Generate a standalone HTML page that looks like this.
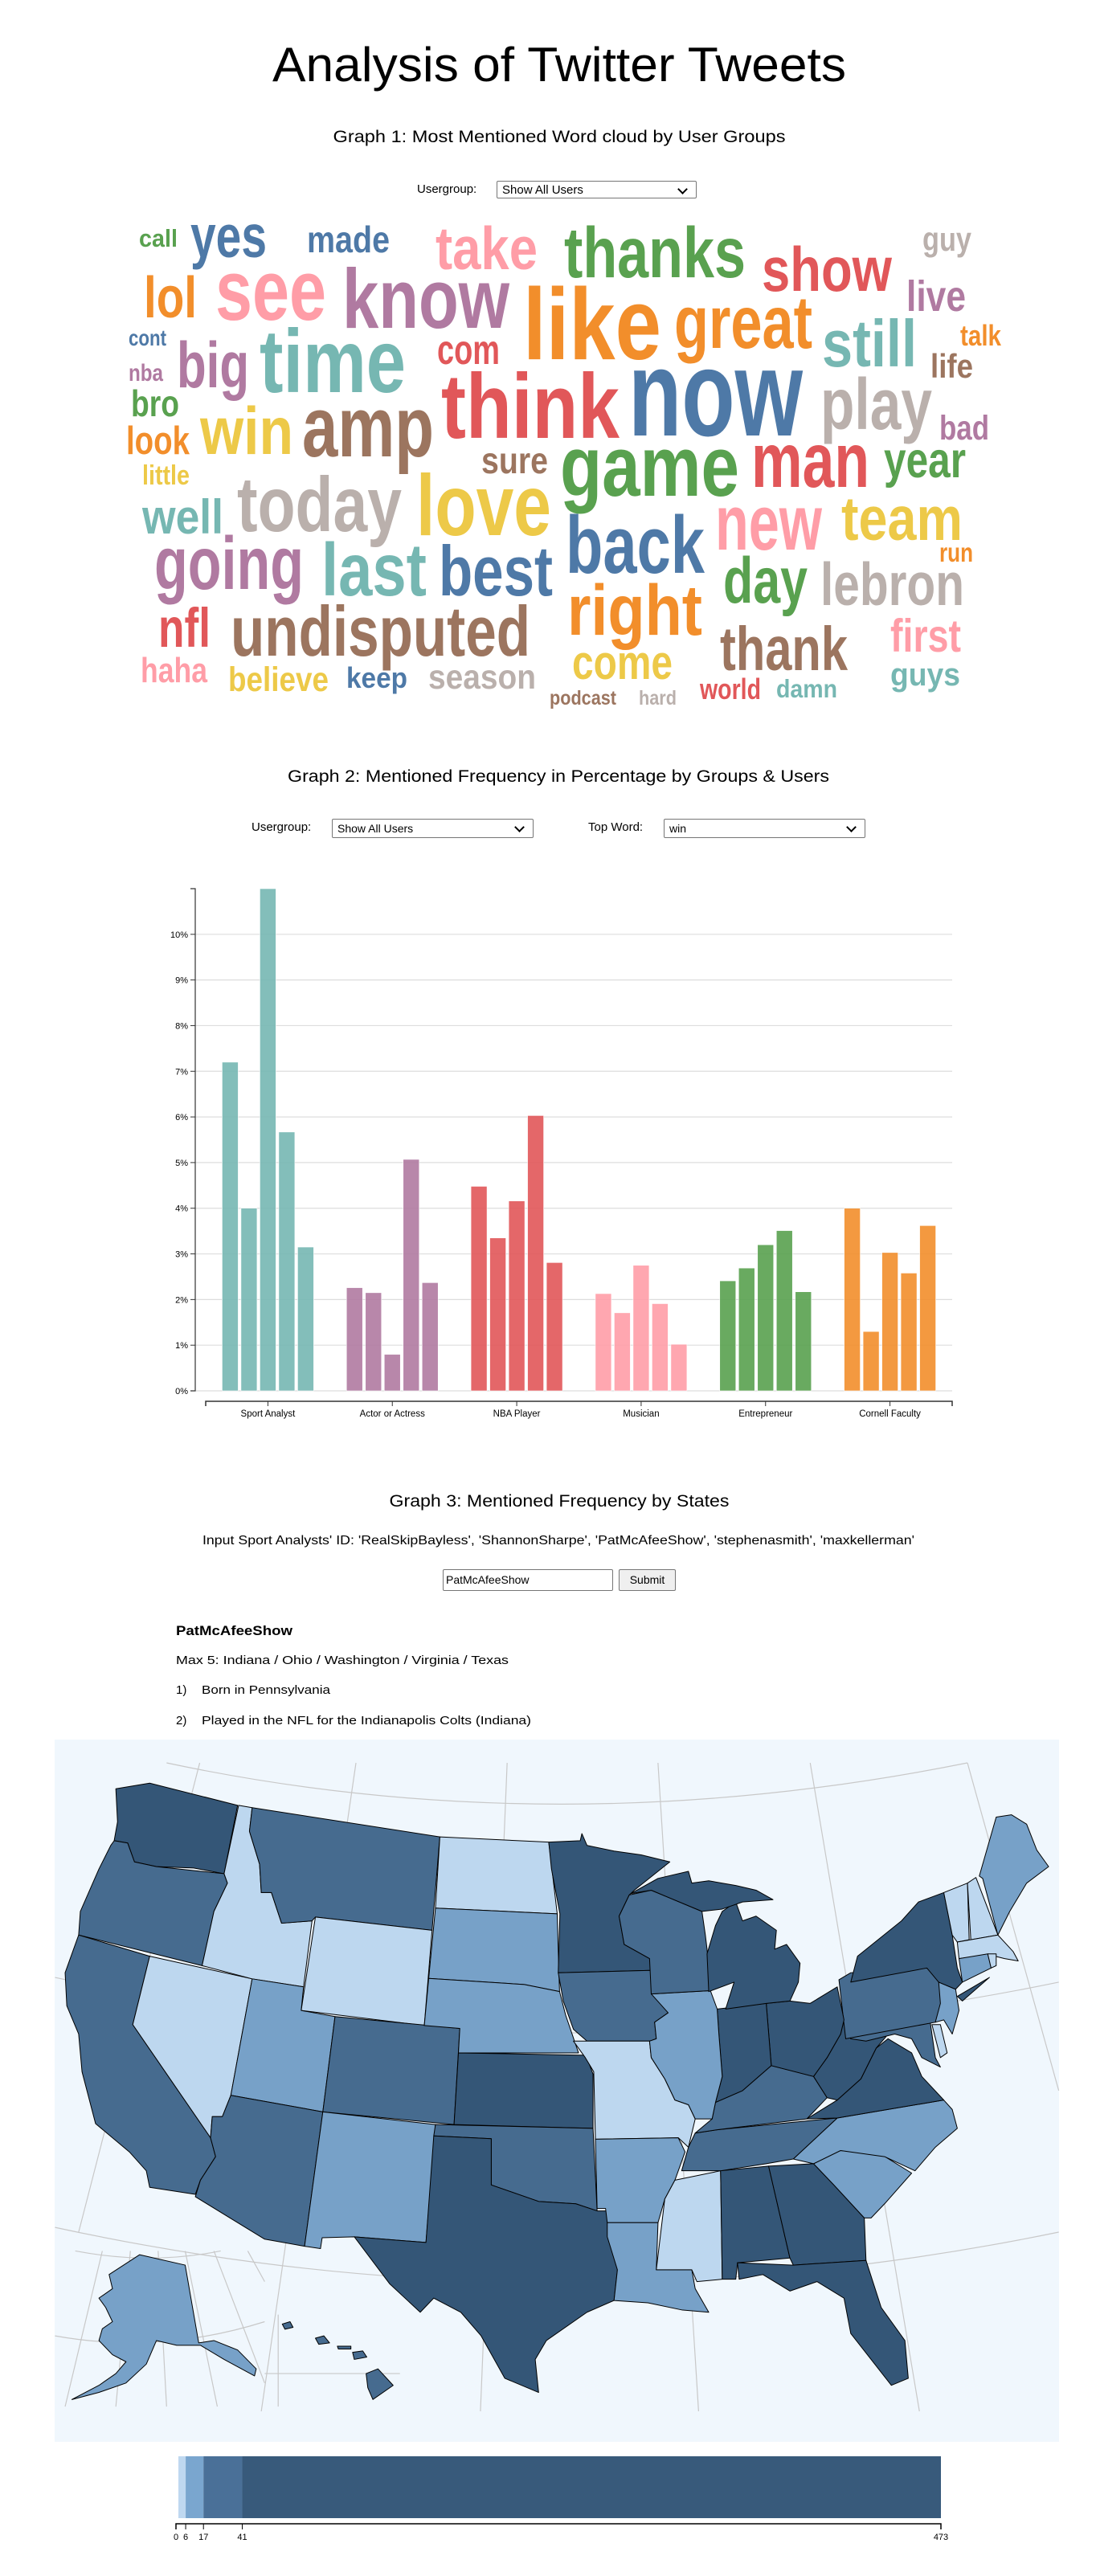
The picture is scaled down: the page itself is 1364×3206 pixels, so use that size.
<!DOCTYPE html>
<html><head><meta charset="utf-8">
<style>
html,body{margin:0;padding:0;background:#fff;}
body{width:1364px;height:3206px;position:relative;overflow:hidden;font-family:"Liberation Sans",sans-serif;}
#main{position:absolute;left:0;top:0;}
.ctl{position:absolute;font-family:"Liberation Sans",sans-serif;font-size:15px;color:#000;}
.sel{position:absolute;box-sizing:border-box;border:1px solid #767676;border-radius:2px;background:#fff;font-size:15px;padding:1px 6px;line-height:20px;}
.sel:after{content:"";position:absolute;right:12px;top:5px;width:7px;height:7px;border-right:2px solid #000;border-bottom:2px solid #000;transform:rotate(45deg);}
</style></head>
<body>
<svg id="main" width="1364" height="3206" xmlns="http://www.w3.org/2000/svg" font-family="Liberation Sans, sans-serif">
  <text x="696" y="101" font-size="60" text-anchor="middle" textLength="714" lengthAdjust="spacingAndGlyphs">Analysis of Twitter Tweets</text>
  <text x="696" y="177" font-size="21" text-anchor="middle" textLength="563" lengthAdjust="spacingAndGlyphs">Graph 1: Most Mentioned Word cloud by User Groups</text>
  <g id="cloud"></g>

  <text x="695" y="973" font-size="21" text-anchor="middle" textLength="674" lengthAdjust="spacingAndGlyphs">Graph 2: Mentioned Frequency in Percentage by Groups &amp; Users</text>
  <g id="bars"></g>

  <text x="696" y="1875" font-size="21" text-anchor="middle" textLength="423" lengthAdjust="spacingAndGlyphs">Graph 3: Mentioned Frequency by States</text>
  <text x="695" y="1922" font-size="16" text-anchor="middle" textLength="886" lengthAdjust="spacingAndGlyphs">Input Sport Analysts' ID: 'RealSkipBayless', 'ShannonSharpe', 'PatMcAfeeShow', 'stephenasmith', 'maxkellerman'</text>
  <text x="219" y="2035" font-size="17" font-weight="bold" textLength="145" lengthAdjust="spacingAndGlyphs">PatMcAfeeShow</text>
  <text x="219" y="2071" font-size="15" textLength="414" lengthAdjust="spacingAndGlyphs">Max 5: Indiana / Ohio / Washington / Virginia / Texas</text>
  <text x="219" y="2108" font-size="15">1)</text>
  <text x="251" y="2108" font-size="15" textLength="160" lengthAdjust="spacingAndGlyphs">Born in Pennsylvania</text>
  <text x="219" y="2146" font-size="15">2)</text>
  <text x="251" y="2146" font-size="15" textLength="410" lengthAdjust="spacingAndGlyphs">Played in the NFL for the Indianapolis Colts (Indiana)</text>

  <rect x="68" y="2165" width="1250" height="874" fill="#f0f7fd"/>
  <g id="grat" fill="none" stroke="#c8c8c8" stroke-width="1.2"></g>
  <g id="map"></g>
  <g id="legend"></g>
</svg>

<div class="ctl" style="left:519px;top:227px;">Usergroup:</div>
<div class="sel" style="left:618px;top:225px;width:249px;height:22px;">Show All Users</div>

<div class="ctl" style="left:313px;top:1021px;">Usergroup:</div>
<div class="sel" style="left:413px;top:1019px;width:251px;height:24px;font-size:14px;">Show All Users</div>
<div class="ctl" style="left:732px;top:1021px;">Top Word:</div>
<div class="sel" style="left:826px;top:1019px;width:251px;height:24px;font-size:14px;">win</div>

<div style="position:absolute;left:551px;top:1953px;width:212px;height:27px;box-sizing:border-box;border:1px solid #767676;border-radius:2px;font-size:14px;line-height:25px;padding-left:3px;">PatMcAfeeShow</div>
<div style="position:absolute;left:770px;top:1953px;width:71px;height:27px;box-sizing:border-box;border:1px solid #767676;border-radius:2px;background:#efefef;font-size:14px;line-height:25px;text-align:center;">Submit</div>

<script>
var NS="http://www.w3.org/2000/svg";
function mk(tag,parent,attrs){var e=document.createElementNS(NS,tag);for(var k in attrs)e.setAttribute(k,attrs[k]);parent.appendChild(e);return e;}

/* ---------- Word cloud ---------- */
var C={g:"#59a14f",b:"#4e79a7",p:"#ff9da7",r:"#e15759",gr:"#bab0ac",o:"#f28e2b",pu:"#b07aa1",t:"#76b7b2",br:"#9c755f",y:"#edc948"};
var words=[["call",173,307,221,28,"g"],["yes",237,320,332,68,"b"],["made",382,314,485,42,"b"],["take",542,335,669,68,"p"],["thanks",702,345,928,81,"g"],["show",948,362,1110,71,"r"],["guy",1148,312,1209,38,"gr"],
["lol",179,395,245,66,"o"],["see",268,398,406,97,"p"],["know",426,408,634,95,"pu"],["like",651,447,823,115,"o"],["great",839,433,1011,84,"o"],["live",1128,387,1202,49,"pu"],
["cont",160,430,207,25,"b"],["big",220,482,310,73,"pu"],["time",323,488,505,101,"t"],["com",544,453,622,47,"r"],["still",1023,456,1141,75,"t"],["talk",1195,430,1246,33,"o"],["life",1158,470,1211,38,"br"],
["nba",160,474,203,27,"pu"],["think",549,545,771,104,"r"],["now",782,542,999,139,"b"],["play",1021,534,1160,82,"gr"],["bro",163,518,223,42,"g"],["bad",1169,547,1231,39,"pu"],
["look",157,565,236,45,"o"],["win",249,565,365,76,"y"],["amp",376,568,540,97,"br"],["sure",599,589,682,42,"br"],["game",697,617,920,97,"g"],["man",935,606,1082,88,"r"],["year",1100,594,1202,57,"g"],
["little",177,603,236,31,"y"],["well",177,664,278,55,"t"],["today",295,661,500,88,"gr"],["love",518,666,686,98,"y"],["back",704,713,877,92,"b"],["new",890,684,1023,89,"p"],["team",1047,672,1198,70,"y"],["run",1169,699,1211,30,"o"],
["going",192,733,378,84,"pu"],["last",400,741,531,84,"t"],["best",546,741,688,80,"b"],["day",900,750,1005,73,"g"],["lebron",1021,753,1200,68,"gr"],
["nfl",197,805,262,62,"r"],["undisputed",287,816,660,80,"br"],["right",706,790,874,81,"o"],["thank",896,834,1055,70,"br"],["first",1108,811,1196,52,"p"],
["haha",175,849,258,40,"p"],["believe",284,860,409,39,"y"],["keep",431,856,507,33,"b"],["season",533,857,667,39,"gr"],["come",712,845,837,55,"y"],["podcast",684,877,767,23,"br"],["hard",795,877,842,23,"gr"],["world",871,870,947,33,"r"],["damn",966,868,1042,29,"t"],["guys",1108,853,1195,36,"t"]];
var cloud=document.getElementById("cloud");
words.forEach(function(w){
  var t=mk("text",cloud,{x:w[1],y:w[2],"font-size":(w[4]*1.1).toFixed(1),"font-weight":"bold",fill:C[w[5]],textLength:w[3]-w[1],lengthAdjust:"spacingAndGlyphs","font-family":"Liberation Sans Narrow, Liberation Sans, sans-serif"});
  
  
  t.textContent=w[0];
});

/* ---------- Bar chart ---------- */
var categories=["Sport Analyst","Actor or Actress","NBA Player","Musician","Entrepreneur","Cornell Faculty"];
var groupColors=["#76b7b2","#b07aa1","#e15759","#ff9da7","#59a14f","#f28e2b"];
var sportValues=[7.2,4.0,11.0,5.67,3.15];
var actorValues=[2.26,2.15,0.8,5.07,2.37];
var nbaValues=[4.48,3.35,4.16,6.03,2.81];
var musicianValues=[2.13,1.71,2.75,1.91,1.02];
var entreValues=[2.41,2.69,3.2,3.51,2.17];
var cornellValues=[4.0,1.3,3.03,2.58,3.62];
var yTicks=[0,1,2,3,4,5,6,7,8,9,10];
var series=[sportValues,actorValues,nbaValues,musicianValues,entreValues,cornellValues];
(function(){
  var g=document.getElementById("bars");
  var X0=256,X1=1185,Y0=1731,Ytop=1106,AX=243;
  var maxV=0;series.forEach(function(s){s.forEach(function(v){if(v>maxV)maxV=v;});});
  function y(v){return Y0-(v/maxV)*(Y0-Ytop);}
  var step=(X1-X0)/categories.length;
  function xc(i){return X0+step*(i+0.5);}
  yTicks.forEach(function(t){
    var l=mk("line",g,{x1:AX,x2:1185,y1:y(t),y2:y(t),stroke:"#ddd","stroke-width":1.2});
    
    
    var tk=mk("line",g,{x1:AX-6,x2:AX,y1:y(t),y2:y(t),stroke:"#333"});
    
    
    var tx=mk("text",g,{x:AX-9,y:y(t)+4,"font-size":11,"text-anchor":"end",fill:"#000"});
    
    
    tx.textContent=t+"%";
  });
  var ya=mk("path",g,{d:"M"+(AX-6)+","+Ytop+"H"+AX+"V"+Y0+"H"+(AX-6),fill:"none",stroke:"#333","stroke-width":1.2});
  
  
  var xa=mk("path",g,{d:"M"+X0+",1750V1744H"+X1+"V1750",fill:"none",stroke:"#333","stroke-width":1.5});
  
  
  var bw=20,gap=3.5;
  categories.forEach(function(c,i){
    var tk=mk("line",g,{x1:xc(i),x2:xc(i),y1:1744,y2:1750,stroke:"#333"});
    
    
    var lb=mk("text",g,{x:xc(i),y:1763,"font-size":11.5,"text-anchor":"middle"});
    
    
    lb.textContent=c;
    var vals=series[i],n=vals.length,tot=n*bw+(n-1)*gap,sx=xc(i)-tot/2;
    vals.forEach(function(v,j){
      var r=mk("rect",g,{x:sx+j*(bw+gap),y:y(v),width:bw,height:Y0-y(v),fill:groupColors[i],"fill-opacity":0.9,stroke:"#fff","stroke-width":0.6});
      
      
    });
  });
})();

/* ---------- Map ---------- */
var D="#345677",M2="#466b8f",MD="#77a1c8",L="#bdd7ef";
var west=[
["washington",D,"200,130 300,118 560,165 520,310 430,298 320,295 255,285 235,245 195,240 205,200"],
["oregon",M2,"195,240 235,245 255,285 320,295 520,310 530,330 490,390 455,505 90,440 95,390 150,300 185,250"],
["california",M2,"90,440 300,485 250,630 480,870 495,910 450,960 435,990 300,975 290,940 240,900 140,840 100,730 90,650 55,590 50,520"],
["nevada",L,"300,485 603,533 540,780 515,825 485,825 480,870 250,630"],
["idaho",L,"563,165 603,170 595,220 625,290 630,350 660,350 690,415 780,410 755,550 603,533 455,505 490,390 530,330 520,310"],
["montana",M2,"603,170 1158,232 1135,430 790,402 780,410 690,415 660,350 630,350 625,290 595,220"],
["wyoming",L,"790,402 1135,430 1112,632 748,600"],
["utah",MD,"603,533 755,550 748,600 848,613 812,815 540,780"],
["colorado",M2,"848,613 1217,638 1200,842 812,815"],
["arizona",M2,"540,780 812,815 758,1100 640,1085 435,995 450,960 495,910 480,870 485,825 515,825"],
["new-mexico",MD,"812,815 1145,842 1117,1092 905,1080 810,1082 805,1105 758,1100"],
["north-dakota",L,"1158,232 1480,243 1505,395 1145,383"],
["south-dakota",MD,"1145,383 1505,395 1510,520 1512,560 1408,545 1125,532"],
["nebraska",MD,"1125,532 1408,545 1512,560 1530,610 1568,690 1213,690 1217,638 1112,632"],
["kansas",D,"1213,690 1590,695 1611,735 1611,850 1200,842"],
["oklahoma",M2,"1145,842 1611,850 1623,1025 1560,1010 1450,1005 1310,970 1310,872 1140,866"],
["texas",D,"1140,866 1310,872 1310,970 1450,1005 1560,1010 1623,1025 1653,1025 1683,1150 1673,1215 1593,1240 1473,1300 1440,1340 1450,1410 1350,1380 1280,1290 1220,1240 1140,1210 1100,1240 1010,1180 905,1080 1117,1092"],
["alaska",MD,"180,1160 270,1118 405,1140 445,1305 490,1300 560,1320 615,1360 610,1375 520,1340 450,1310 380,1310 320,1300 290,1350 230,1390 150,1410 70,1425 150,1395 200,1370 230,1345 190,1330 150,1300 160,1275 190,1260 170,1230 150,1210 190,1190"],
["hawaii-big",M2,"940,1370 975,1360 1020,1395 960,1425 945,1400"],
["hawaii-maui",M2,"900,1325 930,1322 942,1335 905,1340"],
["hawaii-oahu",M2,"790,1295 815,1290 832,1305 800,1308"],
["hawaii-molokai",M2,"855,1312 895,1312 895,1318 858,1318"],
["hawaii-kauai",M2,"692,1265 715,1260 724,1272 700,1276"]
];
var east=[
["minnesota",D,"7,243 100,240 105,225 120,250 200,262 280,270 365,285 260,345 245,355 215,400 230,460 305,490 310,515 35,520 40,395 15,300"],
["iowa",M2,"35,520 310,515 345,565 360,605 320,625 325,660 305,665 120,665 80,640 50,580"],
["missouri",L,"80,665 305,665 310,700 350,745 380,790 420,800 440,830 420,890 390,870 145,873 140,730 115,700"],
["arkansas",MD,"145,873 390,870 410,900 380,960 350,1000 330,1050 180,1050 175,1020 150,1020"],
["louisiana",MD,"180,1050 330,1050 325,1150 430,1150 440,1190 480,1240 400,1235 300,1220 200,1215 210,1150 180,1080"],
["mississippi",L,"380,960 515,940 520,1170 445,1175 430,1150 325,1150 350,1000"],
["alabama",D,"515,940 657,930 720,1125 565,1135 560,1170 520,1170"],
["georgia",D,"657,930 790,925 850,970 940,1040 945,1130 730,1140 720,1125"],
["florida",D,"565,1135 730,1140 945,1130 990,1230 1060,1300 1070,1380 1020,1395 960,1340 900,1285 880,1210 800,1175 720,1195 640,1160 570,1170"],
["south-carolina",MD,"790,925 870,897 990,905 1080,945 1000,1010 960,1040 940,1040 850,970"],
["north-carolina",MD,"730,915 860,828 1175,790 1200,810 1215,850 1150,890 1090,940 1000,910 870,897 790,925"],
["tennessee",M2,"400,940 420,890 440,860 505,853 860,828 730,915 650,925 515,940"],
["kentucky",M2,"440,860 490,830 500,795 580,770 665,717 790,740 830,785 770,830 505,853"],
["virginia",D,"770,830 860,790 930,745 975,680 1010,660 1080,690 1110,740 1175,790 860,828"],
["west-virginia",D,"790,740 830,700 870,650 880,620 900,660 945,655 1005,655 975,680 930,745 860,790 830,785"],
["maryland",M2,"880,620 1130,600 1150,700 1165,720 1110,700 1080,660 1030,650 945,665 900,660"],
["delaware",L,"1140,630 1165,630 1185,690 1165,700"],
["pennsylvania",M2,"865,535 900,520 1125,510 1185,540 1175,600 1150,625 885,660"],
["new-jersey",MD,"1160,540 1210,555 1220,600 1200,650 1175,620 1150,625 1165,585"],
["new-york",D,"900,540 920,485 1050,410 1100,370 1175,350 1200,440 1215,510 1230,540 1210,555 1160,540 1125,510"],
["ohio",D,"650,585 720,580 780,585 860,550 880,620 870,650 830,700 790,740 665,717"],
["indiana",D,"505,597 650,585 665,717 580,770 500,795 520,740 510,650"],
["illinois",MD,"310,565 485,558 505,597 510,650 520,740 500,795 490,830 440,830 420,800 380,790 350,745 310,700 305,665 325,660 320,625 360,605"],
["wisconsin",M2,"245,355 310,345 360,360 460,390 470,440 475,470 485,558 310,565 305,490 230,460 215,400"],
["michigan-lower",D,"480,560 475,480 500,420 520,390 560,370 580,410 620,400 680,430 675,470 710,460 750,500 745,540 720,580 650,585 530,597 555,540"],
["michigan-upper",D,"250,352 330,320 420,305 430,330 480,325 560,335 620,345 670,365 580,370 520,385 460,390 360,360 310,345"],
["vermont",L,"1175,350 1245,330 1250,450 1215,455 1200,440"],
["new-hampshire",L,"1245,330 1270,318 1335,440 1255,450"],
["maine",MD,"1280,315 1330,190 1375,185 1420,205 1450,260 1485,295 1420,330 1370,390 1335,440 1290,320"],
["massachusetts",L,"1215,455 1335,440 1380,475 1395,495 1355,490 1310,482 1220,490"],
["connecticut",MD,"1220,490 1305,480 1315,510 1230,540"],
["rhode-island",L,"1305,480 1330,480 1330,505 1315,510"],
["long-island",D,"1215,570 1310,530 1230,580"]
];
(function(){
  var m=document.getElementById("map");
  var gw=mk("g",m,{transform:"translate(60,2150) scale(0.4209,0.5869)"});
  var ge=mk("g",m,{transform:"translate(680,2150) scale(0.4209,0.5869)"});
  [[west,gw],[east,ge]].forEach(function(pair){
    pair[0].forEach(function(s){
      var p=mk("polygon",pair[1],{points:s[2],fill:s[1],stroke:"#000","stroke-width":1,"vector-effect":"non-scaling-stroke","stroke-linejoin":"round"});
      
      
    });
  });
  var gr=document.getElementById("grat");
  var gg=mk("g",gr,{transform:"translate(60,2150) scale(0.4209,0.5869)"});
  var paths=["M350,75 Q1500,250 2718,75","M20,530 Q1500,760 2988,540","M20,1060 Q1500,1290 2988,1070",
    "M448,75 L90,1070","M910,75 L630,1450","M1357,75 L1278,1450","M1803,75 L1923,1450","M2253,75 L2576,1450","M2718,75 L2988,770",
    "M20,1290 Q330,1330 640,1260","M80,1110 Q300,1140 510,1110","M160,1110 L50,1440","M243,1110 L200,1440","M325,1110 L350,1440","M405,1110 L500,1440","M490,1110 L640,1390","M590,1110 L640,1175","M680,1245 L680,1440","M640,1370 L1040,1370"];
  paths.forEach(function(d,i){
    var p=mk("path",gg,{d:d,"vector-effect":"non-scaling-stroke"});
    
    
  });
})();

/* ---------- Legend ---------- */
var legendThresholds=[0,6,17,41,473];
var legendColors=["#bfd8f0","#7aa6cf","#4a7098","#385a7b"];
(function(){
  var g=document.getElementById("legend");
  var x0=219,x1=1171,max=legendThresholds[legendThresholds.length-1];
  function x(v){return x0+(v/max)*(x1-x0);}
  legendColors.forEach(function(c,i){
    var a=Math.max(x(legendThresholds[i]),222),b=x(legendThresholds[i+1]);
    var r=mk("rect",g,{x:a,y:3057,width:b-a,height:77,fill:c});
    
    
  });
  var ax=mk("path",g,{d:"M"+x0+",3148V3141H"+x1+"V3148",fill:"none",stroke:"#000","stroke-width":1.5});
  
  
  legendThresholds.forEach(function(v){
    var t=mk("line",g,{x1:x(v),x2:x(v),y1:3141,y2:3148,stroke:"#000"});
    
    
    var tx=mk("text",g,{x:x(v),y:3161,"font-size":11,"text-anchor":"middle"});
    
    
    tx.textContent=v;
  });
})();
</script>
</body></html>
